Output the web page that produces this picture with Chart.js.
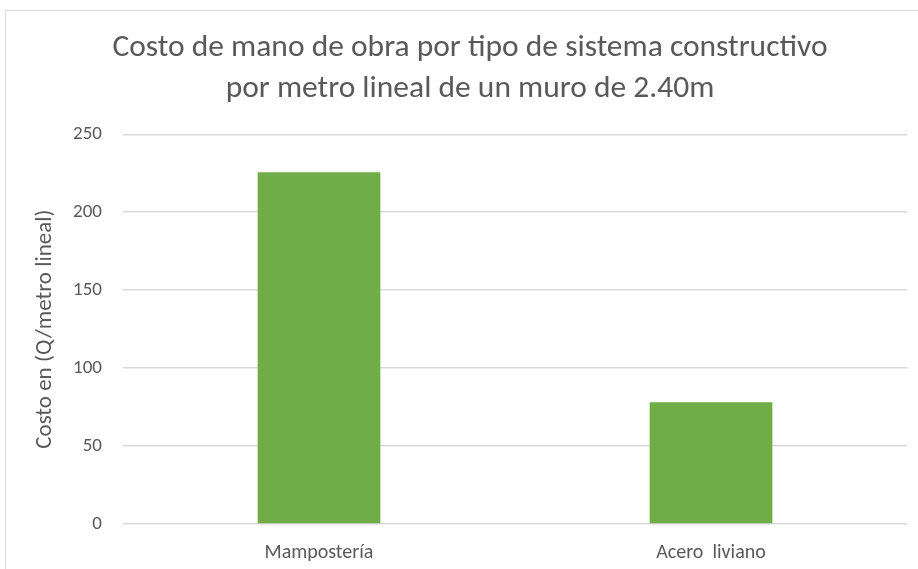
<!DOCTYPE html>
<html>
<head>
<meta charset="utf-8">
<script src="https://cdn.jsdelivr.net/npm/chart.js@4.4.1/dist/chart.umd.min.js"></script>
<style>
  html, body { margin: 0; padding: 0; background: #fff; overflow: hidden; }
  #frame { position: absolute; left: 5px; top: 10px; width: 930px; height: 580px; border: 1px solid #d9d9d9; }
  #wrap { position: absolute; left: 0; top: 0; width: 918px; height: 569px; }
</style>
</head>
<body>
<div id="frame"></div>
<div id="wrap"><canvas id="costChart"></canvas></div>
<script>
// costo de mano de obra por sistema constructivo (Q por metro lineal)
const categories = ["Mampostería", "Acero  liviano"];
const costValues = [225.6, 78.1];
const yTicks = [0, 50, 100, 150, 200, 250];

const titleLines = [
  "Costo de mano de obra por tipo de sistema constructivo",
  "por metro lineal de un muro de 2.40m"
];

const FONT = "Carlito, Lato, sans-serif";
const GREY = "#595959";

new Chart(document.getElementById("costChart"), {
  type: "bar",
  data: {
    labels: categories,
    datasets: [{
      data: costValues,
      backgroundColor: "#70ad47",
      borderWidth: 0,
      categoryPercentage: 1,
      barPercentage: 0.313
    }]
  },
  options: {
    responsive: true,
    maintainAspectRatio: false,
    animation: false,
    layout: { padding: { left: 33, right: 11, top: 0, bottom: 0 } },
    plugins: {
      legend: { display: false },
      tooltip: { enabled: false },
      title: {
        display: true,
        text: titleLines,
        color: GREY,
        font: { family: FONT, size: 31.5, weight: "normal", lineHeight: 1.29 },
        padding: { top: 28, bottom: 25 }
      }
    },
    scales: {
      x: {
        grid: { display: false },
        border: { display: false },
        ticks: { color: GREY, font: { family: FONT, size: 20 }, padding: 9 },
        afterFit: s => { s.height = 45; }
      },
      y: {
        min: 0,
        max: 250,
        afterBuildTicks: s => { s.ticks = yTicks.map(v => ({ value: v })); },
        grid: { color: "#d9d9d9", lineWidth: 1.5, drawTicks: false },
        border: { display: false },
        ticks: { color: GREY, font: { family: FONT, size: 19 }, padding: 21 },
        title: {
          display: true,
          text: "Costo en (Q/metro lineal)",
          color: GREY,
          font: { family: FONT, size: 23 },
          padding: { top: -2, bottom: 0 }
        },
        afterFit: s => { s.width = 90; }
      }
    }
  }
});
</script>
</body>
</html>
